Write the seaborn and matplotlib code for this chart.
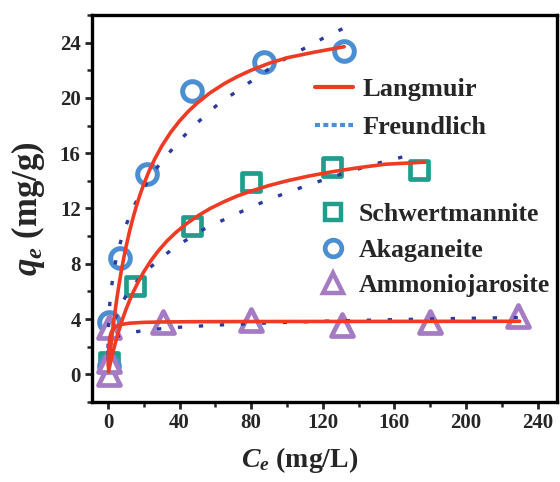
import numpy as np
import pandas as pd
import matplotlib
matplotlib.use("Agg")
import matplotlib.pyplot as plt
from matplotlib.lines import Line2D
from matplotlib.ticker import MultipleLocator
import seaborn as sns

# ---------------- data ----------------
# measured points
schw_C = [0.5, 15, 47, 80, 125, 174]
schw_q = [0.9, 6.4, 10.7, 13.9, 15.0, 14.8]

akag_C = [0.5, 0.5, 7, 22, 47, 87, 132]
akag_q = [0.6, 3.8, 8.4, 14.5, 20.5, 22.6, 23.4]

ammo_C = [0.5, 0.5, 0.5, 31, 80, 131, 180, 229]
ammo_q = [0.0, 1.0, 3.4, 3.8, 3.9, 3.6, 3.8, 4.2]

# Langmuir fit curves
akag_L_C = [0.3, 1, 2, 3, 4, 5, 6, 7, 8, 9, 10, 12, 14, 16, 18, 20, 23, 26, 30,
            35, 40, 45, 50, 57, 65, 72, 80, 90, 100, 115, 132]
akag_L_q = [0.41, 1.31, 2.5, 3.59, 4.58, 5.5, 6.35, 7.13, 7.86, 8.53, 9.17, 10.31,
            11.32, 12.22, 13.03, 13.75, 14.71, 15.54, 16.5, 17.5, 18.33, 19.04,
            19.64, 20.36, 21.03, 21.52, 22.0, 22.5, 22.9, 23.3, 23.7]

schw_L_C = [0.3, 1, 2, 3, 4, 5, 6, 8, 10, 12, 14, 17, 20, 24, 28, 33, 38, 44, 50,
            57, 65, 72, 80, 90, 100, 112, 125, 140, 155, 177]
schw_L_q = [0.19, 0.61, 1.18, 1.71, 2.21, 2.68, 3.12, 3.94, 4.67, 5.32, 5.92, 6.71,
            7.41, 8.22, 8.91, 9.65, 10.27, 10.91, 11.45, 11.99, 12.5, 12.89, 13.26,
            13.66, 14.0, 14.34, 14.65, 14.95, 15.2, 15.35]

ammo_L_C = [0.1, 0.3, 0.6, 1, 1.5, 2, 3, 4, 6, 8, 12, 20, 30, 50, 80, 150, 230]
ammo_L_q = [0.64, 1.44, 2.1, 2.57, 2.89, 3.08, 3.3, 3.42, 3.55, 3.62, 3.7, 3.76,
            3.79, 3.81, 3.82, 3.83, 3.84]

# Freundlich fit curves
akag_F_C = [0.05, 0.2, 0.5, 1, 2, 3, 4.5, 6, 8, 10, 12.5, 15, 18, 22, 26, 30, 35, 40,
            47, 55, 62, 70, 80, 90, 100, 110, 120, 131]
akag_F_q = [1.9, 3.0, 4.0, 5.07, 6.3, 7.26, 8.3, 9.11, 10.0, 10.76, 11.55, 12.3,
            13.0, 13.9, 14.7, 15.4, 16.15, 16.9, 17.85, 18.8, 19.6, 20.3, 21.2,
            22.1, 22.9, 23.6, 24.3, 25.0]

schw_F_C = [0.1, 0.5, 1.5, 3, 6, 10, 15, 22, 30, 37, 45, 52, 60, 70, 80, 90, 100,
            112, 125, 137, 150, 161, 172]
schw_F_q = [1.05, 1.89, 2.83, 3.64, 4.7, 5.66, 6.57, 7.55, 8.46, 9.15, 9.82, 10.4,
            10.9, 11.5, 12.1, 12.65, 13.15, 13.7, 14.27, 14.75, 15.25, 15.6, 16.0]

ammo_F_C = [0.01, 0.1, 0.5, 1, 2, 4, 8, 15, 25, 40, 60, 90, 120, 150, 190, 229]
ammo_F_q = [1.4, 1.8, 2.14, 2.3, 2.48, 2.67, 2.87, 3.07, 3.25, 3.41, 3.56, 3.72,
            3.84, 3.93, 4.03, 4.11]

x_ticks = [0, 40, 80, 120, 160, 200, 240]
y_ticks = [0, 4, 8, 12, 16, 20, 24]

# ---------------- style ----------------
sns.set_theme(style="ticks")
plt.rcParams['font.family'] = ['Liberation Serif', 'DejaVu Serif']
plt.rcParams['font.weight'] = 'bold'
plt.rcParams['mathtext.fontset'] = 'custom'
plt.rcParams['mathtext.rm'] = 'Liberation Serif:bold'
plt.rcParams['mathtext.it'] = 'Liberation Serif:italic:bold'
plt.rcParams['mathtext.bf'] = 'Liberation Serif:bold'

RED = "#ef3b24"
NAVY = "#2b3a9f"
LBLUE = "#4a90d6"
TEAL = "#1f9e8e"
BLUE = "#4b8fd2"
PURPLE = "#a57cc3"

fig = plt.figure(figsize=(5.6, 4.82), dpi=100)
ax = fig.add_axes([0.164, 0.166, 0.831, 0.803])

# markers (drawn below lines)
sns.scatterplot(x=schw_C, y=schw_q, marker='s', s=165, facecolor='white',
                edgecolor=TEAL, linewidth=3.4, ax=ax, zorder=2, clip_on=False)
sns.scatterplot(x=akag_C, y=akag_q, marker='o', s=200, facecolor='white',
                edgecolor=BLUE, linewidth=3.6, ax=ax, zorder=2, clip_on=False)
sns.scatterplot(x=ammo_C, y=ammo_q, marker='^', s=250, facecolor='white',
                edgecolor=PURPLE, linewidth=3.4, ax=ax, zorder=2, clip_on=False)

dot = (0, (1.3, 5.0))
for C, q in [(akag_F_C, akag_F_q), (schw_F_C, schw_F_q), (ammo_F_C, ammo_F_q)]:
    sns.lineplot(x=C, y=q, color=NAVY, lw=2.4, linestyle=dot, ax=ax,
                 estimator=None, sort=False, zorder=3)
for C, q in [(akag_L_C, akag_L_q), (schw_L_C, schw_L_q), (ammo_L_C, ammo_L_q)]:
    sns.lineplot(x=C, y=q, color=RED, lw=2.6, ax=ax,
                 estimator=None, sort=False, zorder=4)

ax.set_xlim(-9, 251)
ax.set_ylim(-2, 26)
ax.set_xticks(x_ticks)
ax.set_yticks(y_ticks)
ax.xaxis.set_minor_locator(MultipleLocator(20))
ax.yaxis.set_minor_locator(MultipleLocator(2))
ax.tick_params(which='major', direction='out', length=5, width=2, labelsize=15, pad=3)
ax.tick_params(which='minor', direction='out', length=3.5, width=1.8)
ax.tick_params(top=False, right=False)
for lab in ax.get_xticklabels() + ax.get_yticklabels():
    lab.set_fontweight('bold')
for sp in ax.spines.values():
    sp.set_visible(True)
    sp.set_linewidth(2.4)
    sp.set_color('black')

ax.set_xlabel(r'$C_e$ (mg/L)', fontsize=20, fontweight='bold')
ax.xaxis.set_label_coords(0.447, -0.112)
ax.set_ylabel(r'$q_e$ (mg/g)', fontsize=25, fontweight='bold', labelpad=9)

# legends
h1 = [Line2D([], [], color=RED, lw=3.0),
      Line2D([], [], color=LBLUE, lw=3.0, linestyle=(0, (1.2, 0.8)))]
leg1 = ax.legend(h1, ['Langmuir', 'Freundlich'], loc='upper left',
                 bbox_to_anchor=(0.48, 0.838), frameon=False, fontsize=19,
                 handlelength=1.45, handletextpad=0.35, labelspacing=0.55,
                 borderpad=0, borderaxespad=0)
for t in leg1.get_texts():
    t.set_fontweight('bold')
ax.add_artist(leg1)

h2 = [Line2D([], [], marker='s', ls='', ms=11, mfc='white', mec=TEAL, mew=3.2),
      Line2D([], [], marker='o', ls='', ms=12, mfc='white', mec=BLUE, mew=3.4),
      Line2D([], [], marker='^', ls='', ms=15, mfc='white', mec=PURPLE, mew=3.2)]
leg2 = ax.legend(h2, ['Schwertmannite', 'Akaganeite', 'Ammoniojarosite'],
                 loc='upper left', bbox_to_anchor=(0.49, 0.515), frameon=False,
                 fontsize=18.5, handlelength=1.0, handletextpad=0.5,
                 labelspacing=0.5, borderpad=0, borderaxespad=0)
for t in leg2.get_texts():
    t.set_fontweight('bold')

fig.savefig("out.png", dpi=100)
